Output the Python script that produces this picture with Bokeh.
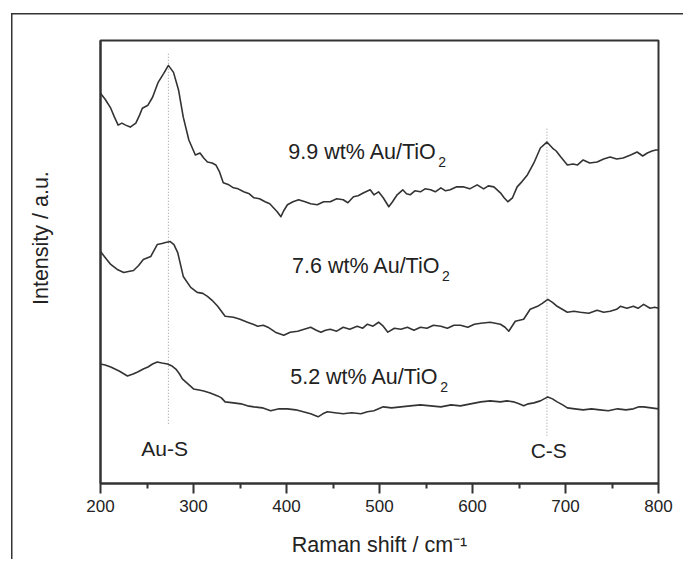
from bokeh.plotting import figure
from bokeh.models import Range1d, FixedTicker
from bokeh.core.properties import value
from bokeh.embed import file_html
from bokeh.resources import INLINE

# ---- data (Raman shift in cm^-1, intensity in arbitrary units, stacked) ----
shift_99 = [200, 205, 211, 215, 219, 223, 227, 232, 238, 242, 245, 251, 256, 262, 268, 273,
            278.5, 284, 289, 295, 302, 307, 311, 315, 320, 324, 328, 332, 338, 343, 348, 354,
            360, 365, 371, 377, 382, 386, 390, 394, 397, 401, 407, 413, 420, 426, 433, 440,
            447, 454, 461, 466, 472, 477, 483, 490, 494, 499, 504, 510, 514, 519, 525, 529,
            533, 538, 544, 549, 555, 560, 566, 571, 576, 583, 590, 597, 605, 612, 617, 623,
            630, 634, 638, 643, 648, 653, 659, 666, 673, 680, 686, 690, 695, 702, 708, 713,
            719, 726, 734, 741, 748, 755, 762, 770, 777, 783, 788, 793, 797, 800]
int_99 = [392, 386, 377, 368, 360, 362, 360, 358, 362, 370, 377, 380, 388, 403, 412, 420,
          413, 395, 368, 345, 330, 332, 327, 323, 322, 320, 313, 302, 300, 297, 296, 293,
          291, 287, 286, 283, 281, 277, 273, 268, 274, 280, 283, 285, 283, 281, 280, 283,
          283, 286, 285, 282, 288, 289, 292, 295, 290, 293, 287, 278, 283, 290, 295, 291,
          290, 294, 293, 296, 295, 293, 297, 294, 295, 298, 298, 296, 300, 296, 299, 298,
          292, 287, 283, 287, 298, 303, 310, 322, 337, 343, 337, 334, 328, 320, 321, 320,
          325, 322, 323, 326, 328, 326, 327, 330, 333, 329, 332, 334, 335, 335]

shift_76 = [200, 205, 211, 218, 225, 230, 235.5, 241, 246, 254, 261, 266, 270, 275, 279, 283,
            289, 297, 304, 310, 315, 320, 326, 334, 343, 350, 358, 364, 369, 375, 380, 388,
            397, 404, 412, 419, 426, 432, 437, 442, 447, 454, 461, 468, 476, 482, 487, 493,
            499, 504, 509, 516, 523, 530, 537, 544, 551, 558, 566, 573, 580, 587, 595, 602,
            609, 619, 630, 635, 639, 646, 655, 662, 670, 675, 681, 686, 691, 702, 709, 716,
            725, 734, 741, 748, 755, 759, 766, 773, 778, 784, 791, 796, 800]
int_76 = [233, 227, 220, 215, 212, 213, 214, 219, 225, 228, 240, 241, 242, 243, 240, 232,
          208, 197, 192, 191, 188, 184, 178, 168, 167, 165, 162, 160, 158, 159, 157, 152,
          149, 152, 153, 155, 157, 154, 152, 154, 155, 153, 157, 155, 158, 156, 160, 158,
          162, 158, 152, 156, 155, 157, 154, 157, 156, 159, 158, 156, 159, 159, 157, 160,
          161, 162, 160, 157, 153, 163, 165, 175, 178, 181, 185, 182, 178, 172, 173, 172,
          171, 174, 172, 173, 175, 178, 176, 178, 176, 180, 176, 177, 176]

shift_52 = [200, 205, 211, 220, 229, 235, 240, 246, 251, 256, 261, 266, 272, 277, 281, 285,
            288, 294, 300, 306, 311, 318, 326, 330, 334, 343, 351, 358, 365, 374, 383, 392,
            401, 410, 418, 426, 434, 439, 444, 452, 461, 470, 480, 487, 494, 499, 504, 513,
            523, 533, 544, 555, 566, 577, 587, 598, 609, 619, 630, 637, 644, 650, 655, 660,
            666, 673, 681, 686, 691, 697, 702, 710, 719, 728, 737, 746, 756, 765, 773, 779,
            784, 792, 800]
int_52 = [120, 119, 117, 113, 108, 110, 112, 115, 117, 120, 122, 121, 120, 118, 115, 110,
          105, 100, 95, 94, 93, 91, 88, 86, 82, 81, 80, 78, 77, 76, 73, 75,
          75, 74, 72, 70, 67, 70, 72, 71, 70, 71, 70, 72, 73, 75, 77, 76,
          77, 78, 79, 78, 77, 79, 78, 80, 82, 83, 82, 83, 82, 80, 78, 80,
          81, 83, 87, 85, 82, 79, 76, 75, 74, 75, 74, 73, 75, 74, 75, 77,
          77, 76, 75]

sample_names = ["9.9 wt% Au/TiO", "7.6 wt% Au/TiO", "5.2 wt% Au/TiO"]
sample_subscripts = ["2", "2", "2"]
sample_label_x = [402, 406, 404]
sample_label_y = [333, 218, 107]

peak_names = ["Au-S", "C-S"]
peak_shift = [273, 680]
peak_line_top = [433, 357]
peak_line_bottom = [60, 48]
peak_label_x = [269, 682]
peak_label_y = [35, 33]

x_ticks = [200, 300, 400, 500, 600, 700, 800]
x_minor_ticks = [250, 350, 450, 550, 650, 750]

FONT = value("Liberation Sans")
INK = "#333333"
TXT = "#222222"

p = figure(width=683, height=559, output_backend="svg", toolbar_location=None,
           x_range=Range1d(200, 800), y_range=Range1d(0, 445),
           min_border_left=100, min_border_right=25, min_border_top=40,
           min_border_bottom=74)
p.grid.visible = False
p.background_fill_color = "white"
p.border_fill_alpha = 0
p.outline_line_color = INK
p.outline_line_width = 2
# outer figure frame (only its left and top edges fall inside the picture)
p.styles = {
    "background": "linear-gradient(#333333, #333333) 11px 13px / 1.5px calc(100% - 13px) no-repeat, "
                  "linear-gradient(#333333, #333333) 11px 13px / calc(100% - 11px) 1.5px no-repeat, "
                  "#ffffff"
}

# x axis
xa = p.xaxis[0]
xa.ticker = FixedTicker(ticks=x_ticks, minor_ticks=x_minor_ticks)
xa.axis_label = "Raman shift / cm\u207b\u00b9"
xa.axis_label_text_font = "Liberation Sans"
xa.axis_label_text_font_style = "normal"
xa.axis_label_text_font_size = "21.5px"
xa.axis_label_text_color = TXT
xa.axis_label_standoff = 18
xa.major_label_text_font = "Liberation Sans"
xa.major_label_text_font_size = "17px"
xa.major_label_text_color = TXT
xa.major_label_standoff = 6
xa.axis_line_color = INK
xa.axis_line_width = 2
xa.major_tick_line_color = INK
xa.major_tick_line_width = 2
xa.major_tick_out = 10
xa.major_tick_in = 0
xa.minor_tick_line_color = INK
xa.minor_tick_line_width = 2
xa.minor_tick_out = 5
xa.minor_tick_in = 0

# y axis (no ticks)
ya = p.yaxis[0]
ya.ticker = FixedTicker(ticks=[])
ya.axis_label = "\u00a0" * 8 + "Intensity / a.u."
ya.axis_label_text_font = "Liberation Sans"
ya.axis_label_text_font_style = "normal"
ya.axis_label_text_font_size = "21.5px"
ya.axis_label_text_color = TXT
ya.axis_label_standoff = 48
ya.axis_line_color = INK
ya.axis_line_width = 2
ya.major_tick_out = 0
ya.major_tick_in = 0
ya.minor_tick_out = 0
ya.minor_tick_in = 0

# peak marker lines
for xs, yt, yb in zip(peak_shift, peak_line_top, peak_line_bottom):
    p.line([xs, xs], [yb, yt], line_color="#999999", line_width=1, line_dash="1 2")

# spectra
for xs, ys in [(shift_99, int_99), (shift_76, int_76), (shift_52, int_52)]:
    p.line(xs, ys, line_color=INK, line_width=1.6, line_join="round")

# sample labels with subscript
p.text(x=sample_label_x, y=sample_label_y, text=sample_names, text_font=FONT,
       text_font_size="21.5px", text_color=TXT, text_baseline="middle", text_align="left")
p.text(x=sample_label_x, y=sample_label_y, text=sample_subscripts, text_font=FONT,
       text_font_size="14px", text_color=TXT, text_baseline="middle", text_align="left",
       x_offset=150, y_offset=10)

# peak labels
p.text(x=peak_label_x, y=peak_label_y, text=peak_names, text_font=FONT,
       text_font_size="21px", text_color=TXT, text_baseline="middle", text_align="center")

open("out.html", "w").write(file_html(p, INLINE))
